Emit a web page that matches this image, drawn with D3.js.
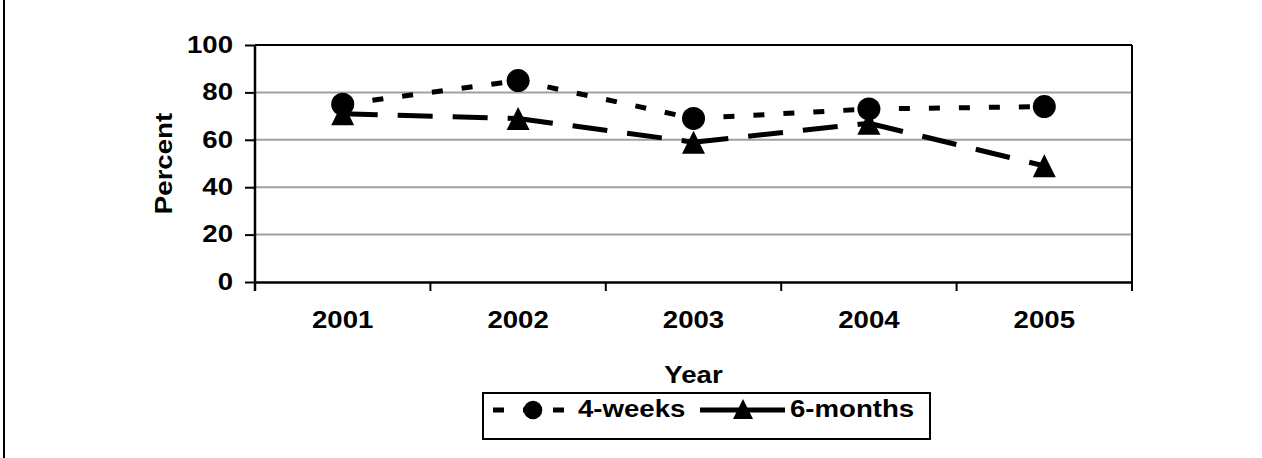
<!DOCTYPE html>
<html>
<head>
<meta charset="utf-8">
<script src="https://cdn.jsdelivr.net/npm/d3@7"></script>
<style>
  body { margin: 0; background: #fff; }
  svg text { font-family: "Liberation Sans", Arial, sans-serif; font-weight: bold; fill: #000; }
</style>
</head>
<body>
<svg id="svg" width="1262" height="458"></svg>
<script>
// data
const years = ["2001", "2002", "2003", "2004", "2005"];
const fourWeeks = [75, 85, 69, 73, 74];
const sixMonths = [71, 69, 59, 67, 49];
const yTicks = [0, 20, 40, 60, 80, 100];

const svg = d3.select("svg#svg");
const plotL = 255, plotR = 1132, plotT = 45, plotB = 282;
const fs = 23;

const x = d3.scaleBand().domain(years).range([plotL, plotR]);
const y = d3.scaleLinear().domain([0, 100]).range([plotB, plotT]);

// outer frame, only left edge visible
svg.append("line").attr("x1", 4).attr("x2", 4).attr("y1", 0).attr("y2", 458)
    .attr("stroke", "#000").attr("stroke-width", 2);

// gridlines
svg.append("g").selectAll("line").data(yTicks.filter(d => d > 0 && d < 100)).enter()
    .append("line")
    .attr("x1", plotL).attr("x2", plotR)
    .attr("y1", d => y(d)).attr("y2", d => y(d))
    .attr("stroke", "#a0a0a0").attr("stroke-width", 2);

// top border
svg.append("line").attr("x1", plotL).attr("x2", plotR).attr("y1", plotT).attr("y2", plotT)
    .attr("stroke", "#000").attr("stroke-width", 2);

// y axis
const yAxis = svg.append("g").attr("transform", `translate(${plotL},0)`)
    .call(d3.axisLeft(y).tickValues(yTicks).tickSize(10).tickSizeOuter(0).tickPadding(12));
// x axis
const xAxis = svg.append("g").attr("transform", `translate(0,${plotB})`)
    .call(d3.axisBottom(x).tickSize(0).tickPadding(30));
[yAxis, xAxis].forEach(g => {
    g.select(".domain").attr("stroke", "#000").attr("stroke-width", 2.5);
    g.selectAll(".tick line").attr("stroke", "#000").attr("stroke-width", 2);
    g.selectAll("text").attr("font-size", fs).attr("fill", "#000")
        .attr("font-family", "Liberation Sans, Arial, sans-serif").attr("font-weight", "bold");
});
yAxis.select(".domain").attr("d", `M0,${plotT}V${plotB + 9}`);
// x ticks between categories
const bounds = years.map(d => x(d)).concat([plotR]);
svg.append("g").selectAll("line").data(bounds).enter().append("line")
    .attr("x1", d => d).attr("x2", d => d).attr("y1", plotB).attr("y2", plotB + 9)
    .attr("stroke", "#000").attr("stroke-width", 2);
svg.append("line").attr("x1", plotR).attr("x2", plotR).attr("y1", plotT).attr("y2", plotB + 9)
    .attr("stroke", "#000").attr("stroke-width", 2);

const cx = d => x(d) + x.bandwidth() / 2;

// series lines, dash restarts at every segment
function drawSeries(vals, dash) {
    const segs = d3.pairs(years.map((yr, i) => [cx(yr), y(vals[i])]));
    svg.append("g").selectAll("line").data(segs).enter().append("line")
        .attr("x1", d => d[0][0]).attr("y1", d => d[0][1])
        .attr("x2", d => d[1][0]).attr("y2", d => d[1][1])
        .attr("stroke", "#000").attr("stroke-width", 5)
        .attr("stroke-dasharray", dash);
}
drawSeries(sixMonths, "35,20");
drawSeries(fourWeeks, "11,19");

function triPath(w) {
    const h = w;
    return `M0,${-h / 2}L${w / 2},${h / 2}L${-w / 2},${h / 2}Z`;
}
svg.append("g").selectAll("path").data(years).enter().append("path")
    .attr("d", triPath(23))
    .attr("transform", (d, i) => `translate(${cx(d)},${y(sixMonths[i])})`)
    .attr("fill", "#000");
svg.append("g").selectAll("circle").data(years).enter().append("circle")
    .attr("cx", d => cx(d)).attr("cy", (d, i) => y(fourWeeks[i]))
    .attr("r", 11.5).attr("fill", "#000");

// axis titles
svg.append("text").attr("x", (plotL + plotR) / 2).attr("y", 383)
    .attr("text-anchor", "middle").attr("font-size", fs).text("Year");
svg.append("text").attr("transform", `translate(172,${(plotT + plotB) / 2}) rotate(-90)`)
    .attr("text-anchor", "middle").attr("font-size", fs).text("Percent");

// legend
const lg = svg.append("g");
lg.append("rect").attr("x", 483).attr("y", 393).attr("width", 447).attr("height", 46)
    .attr("fill", "#fff").attr("stroke", "#000").attr("stroke-width", 2);
lg.append("line").attr("x1", 493).attr("x2", 573).attr("y1", 410).attr("y2", 410)
    .attr("stroke", "#000").attr("stroke-width", 5).attr("stroke-dasharray", "11,19");
lg.append("circle").attr("cx", 533).attr("cy", 410).attr("r", 9.3).attr("fill", "#000");
lg.append("text").attr("x", 578).attr("y", 417).attr("font-size", fs).text("4-weeks");
lg.append("line").attr("x1", 700).attr("x2", 785).attr("y1", 410).attr("y2", 410)
    .attr("stroke", "#000").attr("stroke-width", 5);
lg.append("path").attr("d", triPath(20)).attr("transform", "translate(743,409)").attr("fill", "#000");
lg.append("text").attr("x", 790).attr("y", 417).attr("font-size", fs).text("6-months");

// the original lettering is wider than Liberation Sans bold, stretch it a bit
svg.selectAll("text").each(function () {
    const w = this.getComputedTextLength();
    d3.select(this).attr("textLength", w * 1.2).attr("lengthAdjust", "spacingAndGlyphs");
});
</script>
</body>
</html>
